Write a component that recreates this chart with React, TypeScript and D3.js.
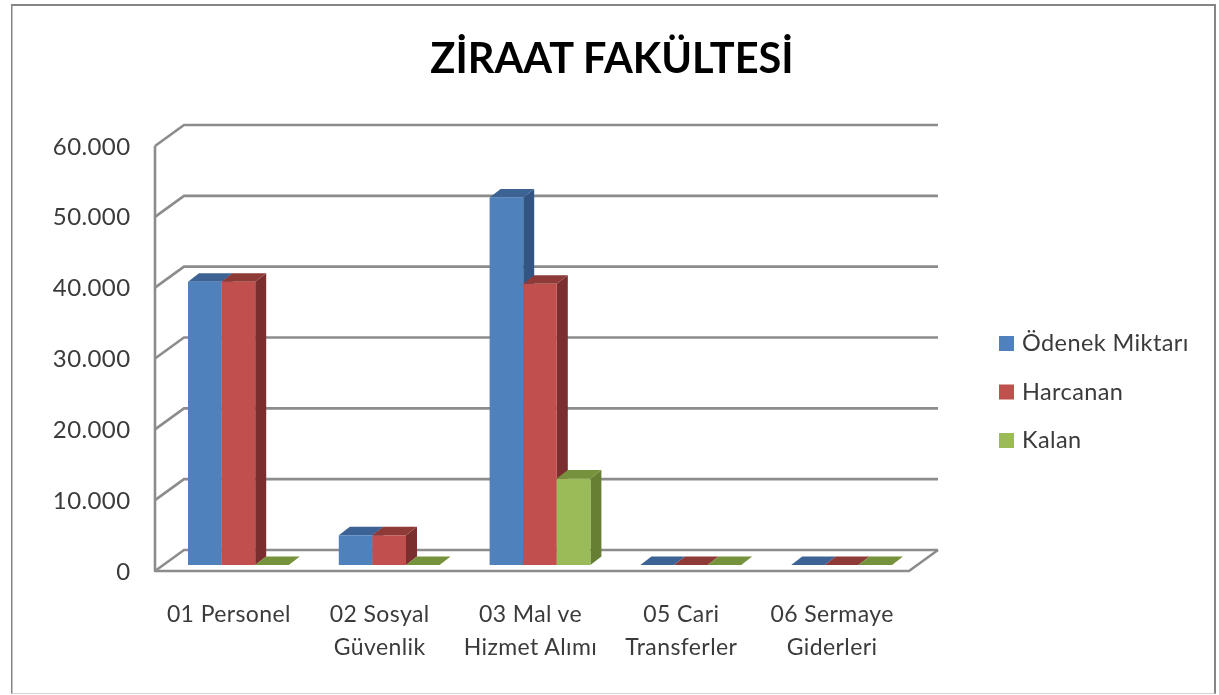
import React from "react";
import * as d3 from "d3";

const categories = ["01 Personel", "02 Sosyal Güvenlik", "03 Mal ve Hizmet Alımı", "05 Cari Transferler", "06 Sermaye Giderleri"];
const categoryLines = [["01 Personel"], ["02 Sosyal", "Güvenlik"], ["03 Mal ve", "Hizmet Alımı"], ["05 Cari", "Transferler"], ["06 Sermaye", "Giderleri"]];
const seriesNames = ["Ödenek Miktarı", "Harcanan", "Kalan"];
const odenek = [40000, 4200, 51900, 0, 0];
const harcanan = [40000, 4200, 39700, 0, 0];
const kalan = [0, 0, 12200, 0, 0];
const seriesValues = [odenek, harcanan, kalan];
const tickValues = [0, 10000, 20000, 30000, 40000, 50000, 60000];
const frontColors = ["#4F81BD", "#C0504D", "#9BBB59"];
const topColors = ["#3C6494", "#8E3B39", "#76923C"];
const sideColors = ["#335583", "#7A2F2D", "#667F33"];

const FONT = "Lato, Carlito, sans-serif";
const W = 1219, H = 695;
const plot = { left: 155, right: 909, top: 146, bottom: 571 };
const depth = { dx: 29, dy: -21 };
const barBase = { dx: 8, dy: -6 };
const barDepth = { dx: 11, dy: -8.5 };
const GRID = "#8C8C8C";

const fmt = d3.formatLocale({ decimal: ",", thousands: ".", grouping: [3], currency: ["", ""] }).format(",d");

export default function App() {
  const y = d3.scaleLinear().domain([0, 60000]).range([plot.bottom, plot.top]);
  const x = d3.scaleBand<string>().domain(categories).range([plot.left, plot.right]);
  const inner = d3.scaleBand<string>().domain(seriesNames).range([25, x.bandwidth() - 25]);
  const line = d3.line();
  const poly = (pts: [number, number][]) => line(pts)! + "Z";

  return (
    <svg width={W} height={H} viewBox={`0 0 ${W} ${H}`} style={{ position: "absolute", left: 0, top: 0, background: "#fff" }} fontFamily={FONT}>
      <defs>
        <filter id="soft" x="0" y="0" width="100%" height="100%">
          <feGaussianBlur stdDeviation={0.45} />
        </filter>
      </defs>
      <g filter="url(#soft)">
        <path d="M11,694V4.5H1215.5V694" fill="#fff" stroke="#858585" strokeWidth={3} />
        <path d="M11,694H1215.5" fill="none" stroke="#C4C4C4" strokeWidth={1.5} />
        <text x={612} y={72.5} textAnchor="middle" fontSize={41.5} fontWeight={700} fill="#000">ZİRAAT FAKÜLTESİ</text>

        <g fill="none" stroke={GRID} strokeWidth={2.6}>
          <path d={`M${plot.left},${plot.bottom}V${plot.top}`} />
          {tickValues.map((t) => (
            <path key={t} d={line([[plot.left, y(t)], [plot.left + depth.dx, y(t) + depth.dy], [plot.right + depth.dx, y(t) + depth.dy]])!} />
          ))}
          <path d={line([[plot.left - 1, plot.bottom], [plot.right, plot.bottom], [plot.right + depth.dx, plot.bottom + depth.dy]])!} />
        </g>

        <g fontSize={24} fill="#3A3A3A" textAnchor="end" letterSpacing={0.4}>
          {tickValues.map((t) => (
            <text key={t} x={130.5} y={y(t) + 8.5}>{fmt(t)}</text>
          ))}
        </g>

        {categories.map((c, ci) => (
          <g key={c}>
            {seriesNames.map((s, si) => {
              const v = seriesValues[si][ci];
              const x0 = x(c)! + inner(s)! + barBase.dx;
              const x1 = x0 + inner.bandwidth();
              const yb = y(0) + barBase.dy;
              const yt = y(v) + barBase.dy;
              const { dx, dy } = barDepth;
              return (
                <g key={s}>
                  {v > 0 && <path d={poly([[x1, yb], [x1 + dx, yb + dy], [x1 + dx, yt + dy], [x1, yt]])} fill={sideColors[si]} />}
                  <path d={poly([[x0, yt], [x0 + dx, yt + dy], [x1 + dx, yt + dy], [x1, yt]])} fill={topColors[si]} />
                  {v > 0 && <rect x={x0} y={yt} width={x1 - x0} height={yb - yt} fill={frontColors[si]} />}
                </g>
              );
            })}
          </g>
        ))}

        <g fontSize={23} fill="#3A3A3A" textAnchor="middle" letterSpacing={0.4}>
          {categories.map((c, ci) => (
            <text key={c} x={x(c)! + x.bandwidth() / 2 - 1}>
              {categoryLines[ci].map((l, li) => (
                <tspan key={l} x={x(c)! + x.bandwidth() / 2 - 1.5} y={622 + li * 33}>{l}</tspan>
              ))}
            </text>
          ))}
        </g>

        <g>
          {seriesNames.map((s, i) => (
            <g key={s} transform={`translate(999,${336 + i * 48.5})`}>
              <rect width={15} height={15} fill={frontColors[i]} />
              <text x={23} y={15} fontSize={23.5} fill="#3A3A3A" letterSpacing={0.4}>{s}</text>
            </g>
          ))}
        </g>
      </g>
    </svg>
  );
}
